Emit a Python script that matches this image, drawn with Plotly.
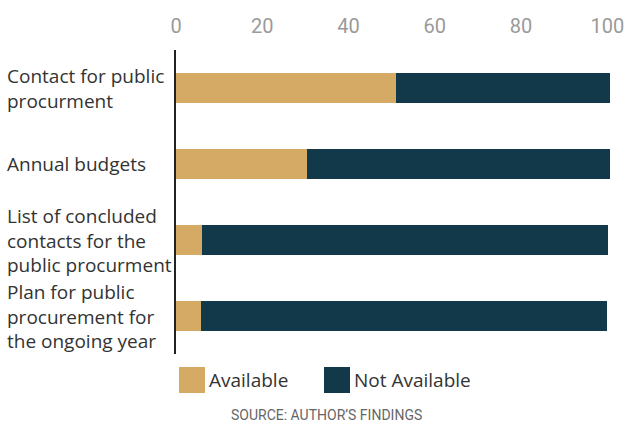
import plotly.graph_objects as go

categories = [
    "Contact for public<br>procurment",
    "Annual budgets",
    "List of concluded<br>contacts for the<br>public procurment",
    "Plan for public<br>procurement for<br>the ongoing year",
]
available = [51, 30.4, 6.0, 5.9]
not_available = [49.7, 70.1, 94.2, 94.1]
x_ticks = [0, 20, 40, 60, 80, 100]
series_names = ["Available", "Not Available"]
colors = ["#D4AA64", "#12394A"]

fig = go.Figure()
fig.add_trace(go.Bar(y=categories, x=available, orientation="h", name=series_names[0],
                     marker=dict(color=colors[0], line=dict(width=0)), showlegend=False))
fig.add_trace(go.Bar(y=categories, x=not_available, orientation="h", name=series_names[1],
                     marker=dict(color=colors[1], line=dict(width=0)), showlegend=False))

L, R, T, B = 176, 9, 50, 69
W, H = 625, 423
pw = W - L - R
ph = H - T - B

def px(x):
    return (x - L) / pw

def py(y):
    return (H - B - y) / ph

FONT = "Open Sans"
annotations = []
for c in categories:
    annotations.append(dict(x=px(5), xref="paper", y=c, yref="y", text=c, showarrow=False,
                            xanchor="left", yanchor="middle", align="left",
                            font=dict(family=FONT, size=19, color="#333333")))

shapes = []
legend_sq = [(179, 205), (324, 350)]
legend_tx = [207, 352]
for i, name in enumerate(series_names):
    x0, x1 = legend_sq[i]
    shapes.append(dict(type="rect", xref="paper", yref="paper", x0=px(x0), x1=px(x1),
                       y0=py(393), y1=py(367), fillcolor=colors[i], line=dict(width=0)))
    annotations.append(dict(x=px(legend_tx[i]), xref="paper", y=py(380), yref="paper",
                            text=name, showarrow=False, xanchor="left", yanchor="middle",
                            font=dict(family=FONT, size=19, color="#333333")))

annotations.append(dict(x=px(326), xref="paper", y=py(415), yref="paper",
                        text="SOURCE: AUTHOR’S FINDINGS", showarrow=False,
                        xanchor="center", yanchor="middle",
                        font=dict(family="Roboto", size=14, color="#666666")))

fig.update_layout(
    width=W, height=H,
    margin=dict(l=L, r=R, t=T, b=B, pad=0, autoexpand=False),
    barmode="stack",
    bargap=0.605,
    plot_bgcolor="white", paper_bgcolor="white",
    showlegend=False,
    annotations=annotations,
    shapes=shapes,
    xaxis=dict(side="top", range=[0, 102], tickvals=x_ticks, ticktext=[str(v) for v in x_ticks],
               showgrid=False, zeroline=False, showline=False, ticks="",
               tickfont=dict(family="Roboto", size=20, color="#9a9a9a"),
               ticklabelstandoff=12, automargin=False, fixedrange=True),
    yaxis=dict(range=[3.5, -0.5], showticklabels=False, showgrid=False, zeroline=False,
               showline=True, linecolor="#222222", linewidth=1.5, ticks="",
               automargin=False, fixedrange=True),
)

fig.write_html("out.html")
